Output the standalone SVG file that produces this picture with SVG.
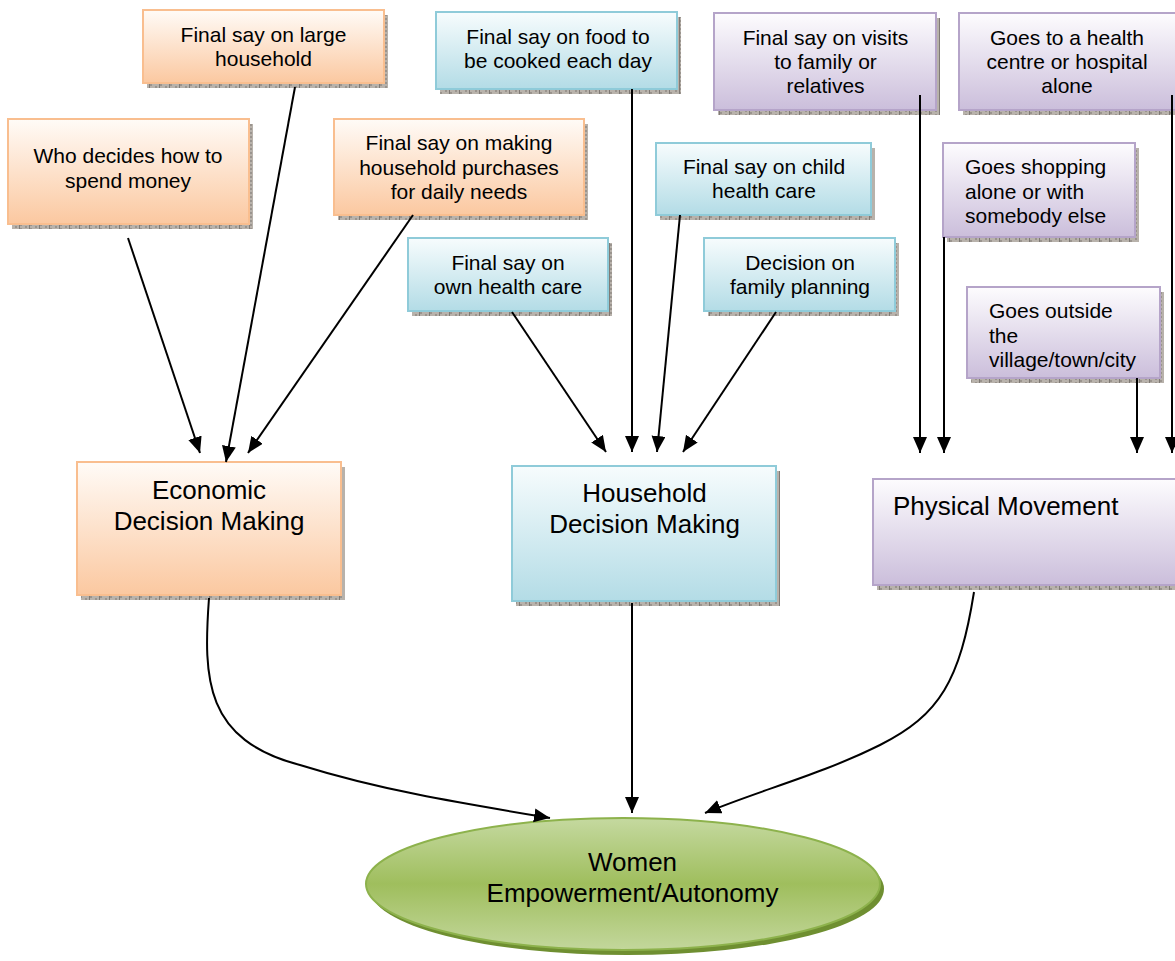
<svg xmlns="http://www.w3.org/2000/svg" width="1175" height="961" viewBox="0 0 1175 961">
<style>
text{font-family:"Liberation Sans",Arial,sans-serif;fill:#000}
.s{font-size:21px;text-anchor:middle}
.sl{font-size:21px}
.l{font-size:26px;text-anchor:middle}
.ll{font-size:26px}
.sh{fill:url(#shp)}
.or{fill:url(#gO);stroke:#f9be8f;stroke-width:2}
.bl{fill:url(#gB);stroke:#8fcbd9;stroke-width:2}
.pu{fill:url(#gP);stroke:#b5a4c9;stroke-width:2}
.c{fill:none;stroke:#000;stroke-width:2;marker-end:url(#ah)}
</style>
<defs>
<linearGradient id="gO" x1="0" y1="0" x2="0" y2="1"><stop offset="0" stop-color="#fffbf7"/><stop offset="1" stop-color="#fbc8a0"/></linearGradient>
<linearGradient id="gB" x1="0" y1="0" x2="0" y2="1"><stop offset="0" stop-color="#f7fcfd"/><stop offset="1" stop-color="#b3dce6"/></linearGradient>
<linearGradient id="gP" x1="0" y1="0" x2="0" y2="1"><stop offset="0" stop-color="#fdfcfe"/><stop offset="1" stop-color="#cbbedb"/></linearGradient>
<linearGradient id="gG" x1="0" y1="0" x2="0" y2="1"><stop offset="0" stop-color="#c5d9a0"/><stop offset="0.5" stop-color="#9fbe5d"/><stop offset="1" stop-color="#c3d79c"/></linearGradient>
<pattern id="shp" width="10" height="4" patternUnits="userSpaceOnUse"><rect width="10" height="4" fill="#b8b2ab"/><rect x="0" y="0" width="2" height="2" fill="#9a948e"/><rect x="5" y="2" width="2" height="2" fill="#9a948e"/><rect x="9" y="0" width="1" height="4" fill="#7f7a75"/></pattern>
<marker id="ah" markerUnits="userSpaceOnUse" markerWidth="17" markerHeight="15" refX="16" refY="7" orient="auto"><path d="M0,0 L16,7 L0,14 z" fill="#000"/></marker>
</defs>
<rect width="1175" height="961" fill="#fff"/>

<g id="n-large-household"><rect class="sh" x="147" y="15" width="241" height="73"/><rect class="or" x="143" y="10" width="241" height="73"/><text class="s" x="263.5" y="41.5">Final say on large</text><text class="s" x="263.5" y="65.5">household</text></g>
<g id="n-spend-money"><rect class="sh" x="12" y="124" width="241" height="105"/><rect class="or" x="8" y="119" width="241" height="105"/><text class="s" x="128" y="162.5">Who decides how to</text><text class="s" x="128" y="187.5">spend money</text></g>
<g id="n-purchases"><rect class="sh" x="338" y="124" width="250" height="96"/><rect class="or" x="334" y="119" width="250" height="96"/><text class="s" x="459" y="150">Final say on making</text><text class="s" x="459" y="174.5">household purchases</text><text class="s" x="459" y="199">for daily needs</text></g>
<g id="n-economic"><rect class="sh" x="81" y="467" width="264" height="133"/><rect class="or" x="77" y="462" width="264" height="133"/><text class="l" x="209" y="499">Economic</text><text class="l" x="209" y="530">Decision Making</text></g>

<g id="n-food"><rect class="sh" x="440" y="17" width="241" height="77"/><rect class="bl" x="436" y="12" width="241" height="77"/><text class="s" x="558" y="43.5">Final say on food to</text><text class="s" x="558" y="68">be cooked each day</text></g>
<g id="n-child"><rect class="sh" x="660" y="148" width="215" height="72"/><rect class="bl" x="656" y="143" width="215" height="72"/><text class="s" x="764" y="174">Final say on child</text><text class="s" x="764" y="198">health care</text></g>
<g id="n-own-health"><rect class="sh" x="412" y="243" width="200" height="73"/><rect class="bl" x="408" y="238" width="200" height="73"/><text class="s" x="508" y="270">Final say on</text><text class="s" x="508" y="294">own health care</text></g>
<g id="n-family-planning"><rect class="sh" x="708" y="243" width="191" height="73"/><rect class="bl" x="704" y="238" width="191" height="73"/><text class="s" x="800" y="270">Decision on</text><text class="s" x="800" y="294">family planning</text></g>
<g id="n-household"><rect class="sh" x="516" y="471" width="264" height="135"/><rect class="bl" x="512" y="466" width="264" height="135"/><text class="l" x="644.5" y="502">Household</text><text class="l" x="644.5" y="533">Decision Making</text></g>

<g id="n-visits"><rect class="sh" x="718" y="18" width="222" height="97"/><rect class="pu" x="714" y="13" width="222" height="97"/><text class="s" x="825.5" y="44.5">Final say on visits</text><text class="s" x="825.5" y="68.5">to family or</text><text class="s" x="825.5" y="92.5">relatives</text></g>
<g id="n-health-centre"><rect class="sh" x="963" y="18" width="222" height="97"/><rect class="pu" x="959" y="13" width="222" height="97"/><text class="s" x="1067" y="44.5">Goes to a health</text><text class="s" x="1067" y="68.5">centre or hospital</text><text class="s" x="1067" y="92.5">alone</text></g>
<g id="n-shopping"><rect class="sh" x="947" y="148" width="192" height="94"/><rect class="pu" x="943" y="143" width="192" height="94"/><text class="sl" x="965" y="174">Goes shopping</text><text class="sl" x="965" y="198.5">alone or with</text><text class="sl" x="965" y="223">somebody else</text></g>
<g id="n-outside"><rect class="sh" x="971" y="292" width="193" height="91"/><rect class="pu" x="967" y="287" width="193" height="91"/><text class="sl" x="989" y="318">Goes outside</text><text class="sl" x="989" y="342.5">the</text><text class="sl" x="989" y="367">village/town/city</text></g>
<g id="n-physical"><rect class="sh" x="877" y="484" width="310" height="106"/><rect class="pu" x="873" y="479" width="310" height="106"/><text class="ll" x="893" y="515">Physical Movement</text></g>

<g id="n-women"><ellipse cx="627" cy="889" rx="257" ry="66" fill="#6f8f31"/><ellipse cx="623" cy="884" rx="257" ry="66" fill="url(#gG)" stroke="#8db24c" stroke-width="2"/><text class="l" x="632.5" y="871">Women</text><text class="l" x="632.5" y="902">Empowerment/Autonomy</text></g>

<g id="connectors">
<path class="c" d="M128,238 L200,453"/>
<path class="c" d="M295,87 L226,462"/>
<path class="c" d="M413,215 L248,453"/>
<path class="c" d="M512,312 L606,452"/>
<path class="c" d="M632,89 L632,452"/>
<path class="c" d="M680,215 L657,452"/>
<path class="c" d="M776,312 L683,452"/>
<path class="c" d="M920,95 L920,453"/>
<path class="c" d="M944,237 L944,453"/>
<path class="c" d="M1137,378 L1137,453"/>
<path class="c" d="M1172,95 L1172,453"/>
<path class="c" d="M209,598 C203,680 205,740 300,765 C380,790 460,803 550,818"/>
<path class="c" d="M632,603 L632,813"/>
<path class="c" d="M974,592 C960,680 940,715 880,745 C820,775 760,790 705,813"/>
</g>
</svg>
